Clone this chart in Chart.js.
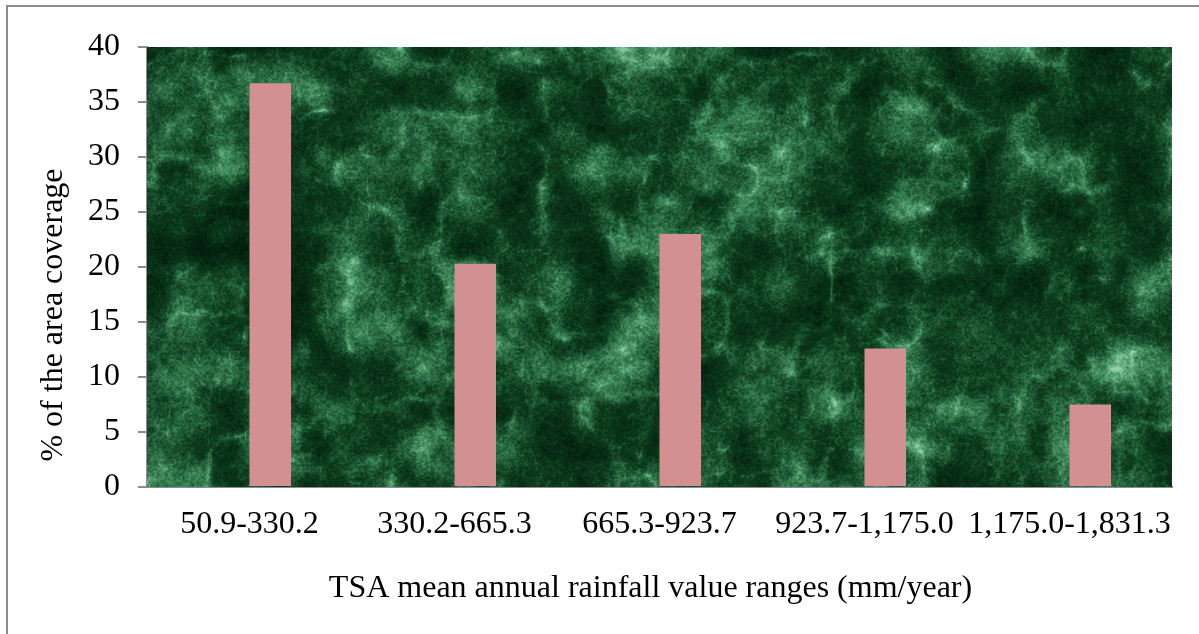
<!DOCTYPE html>
<html>
<head>
<meta charset="utf-8">
<title>TSA mean annual rainfall</title>
<script src="https://cdn.jsdelivr.net/npm/chart.js@4.4.1/dist/chart.umd.min.js"></script>
<style>
  html, body { margin: 0; padding: 0; background: #fff; }
  #wrap { width: 1199px; height: 634px; }
</style>
</head>
<body>
<div id="wrap"><canvas id="rainChart" width="1199" height="634"></canvas></div>
<script>
// rainfall classes and share of the area in each
const rangeLabels = ['50.9-330.2', '330.2-665.3', '665.3-923.7', '923.7-1,175.0', '1,175.0-1,831.3'];
const areaCoverage = [36.7, 20.3, 23.0, 12.6, 7.5];
const emptySeries = [null, null, null, null, null];
const yTicks = [0, 5, 10, 15, 20, 25, 30, 35, 40];
const xTitle = 'TSA mean annual rainfall value ranges (mm/year)';
const yTitle = '% of the area coverage';

const serif = "'Liberation Serif', 'Times New Roman', serif";
const axisGrey = '#8c8c8c';

// --- green marble fill for the plot area ---
function hash(x, y) {
    let h = (x * 374761393 + y * 668265263) | 0;
    h = Math.imul(h ^ (h >>> 13), 1274126177);
    h = h ^ (h >>> 16);
    return (h >>> 0) / 4294967296;
}
function noise(x, y) {
    const xi = Math.floor(x), yi = Math.floor(y);
    const xf = x - xi, yf = y - yi;
    const u = xf * xf * (3 - 2 * xf), v = yf * yf * (3 - 2 * yf);
    const a = hash(xi, yi), b = hash(xi + 1, yi), c = hash(xi, yi + 1), d = hash(xi + 1, yi + 1);
    return a + (b - a) * u + (c - a) * v + (a - b - c + d) * u * v;
}
function fbm(x, y, oct) {
    let s = 0, amp = 0.5, f = 1, norm = 0;
    for (let i = 0; i < oct; i++) {
        s += amp * noise(x * f + i * 17.3, y * f - i * 9.1);
        norm += amp; amp *= 0.5; f *= 2;
    }
    return s / norm;
}
function ridged(x, y, oct) {
    let s = 0, amp = 0.6, f = 1, norm = 0;
    for (let i = 0; i < oct; i++) {
        let r = 1 - Math.abs(2 * noise(x * f + i * 31.7, y * f + i * 5.3) - 1);
        s += amp * r * r;
        norm += amp; amp *= 0.5; f *= 2;
    }
    return s / norm;
}
const ramp = [
    [0.00, [2, 30, 12]],
    [0.30, [12, 58, 28]],
    [0.45, [28, 86, 50]],
    [0.62, [56, 126, 82]],
    [0.80, [96, 170, 124]],
    [1.00, [150, 210, 172]]
];
function shade(t) {
    t = Math.max(0, Math.min(1, t));
    for (let i = 1; i < ramp.length; i++) {
        if (t <= ramp[i][0]) {
            const [t0, c0] = ramp[i - 1], [t1, c1] = ramp[i];
            const k = (t - t0) / (t1 - t0);
            return [c0[0] + (c1[0] - c0[0]) * k, c0[1] + (c1[1] - c0[1]) * k, c0[2] + (c1[2] - c0[2]) * k];
        }
    }
    return ramp[ramp.length - 1][1];
}
function makeMarble(w, h) {
    const c = document.createElement('canvas');
    c.width = w; c.height = h;
    const g = c.getContext('2d');
    const img = g.createImageData(w, h);
    const px = img.data;
    for (let y = 0; y < h; y++) {
        for (let x = 0; x < w; x++) {
            const wx = x + 24 * fbm(x / 60 + 3.1, y / 60, 3);
            const wy = y + 24 * fbm(x / 60, y / 60 + 7.7, 3);
            let m = (fbm(x / 40, y / 40, 5) - 0.5) * 3.0 + 0.5;
            const veins = Math.pow(ridged(wx / 48, wy / 48, 3), 4);
            const cracks = Math.pow(ridged(wx / 11, wy / 11, 2), 5);
            const grain = fbm(x / 2.0, y / 2.0, 2);
            const t = 0.03 + 0.32 * m + 0.45 * veins + 0.18 * cracks + 0.30 * grain;
            const col = shade(t);
            const i = (y * w + x) * 4;
            px[i] = col[0]; px[i + 1] = col[1]; px[i + 2] = col[2]; px[i + 3] = 255;
        }
    }
    g.putImageData(img, 0, 0);
    return c;
}

let marble = null;
const plotBackground = {
    id: 'plotBackground',
    beforeDatasetsDraw(chart) {
        const a = chart.chartArea;
        const w = Math.round(a.right - a.left), h = Math.round(a.bottom - a.top);
        if (!marble || marble.width !== w || marble.height !== h) marble = makeMarble(w, h);
        chart.ctx.drawImage(marble, Math.round(a.left), Math.round(a.top));
    }
};

// thin frame around the whole figure, plus the two axis titles
const frame = {
    id: 'frame',
    afterDraw(chart) {
        const ctx = chart.ctx;
        const a = chart.chartArea;
        ctx.save();
        ctx.strokeStyle = axisGrey;
        ctx.lineWidth = 2;
        ctx.beginPath();
        ctx.moveTo(7, chart.height);
        ctx.lineTo(7, 6);
        ctx.lineTo(chart.width, 6);
        ctx.stroke();

        ctx.fillStyle = '#000';
        ctx.font = '32px ' + serif;
        ctx.textAlign = 'center';
        ctx.textBaseline = 'alphabetic';
        ctx.fillText(xTitle, (a.left + a.right) / 2 - 9, a.bottom + 110);
        ctx.translate(62, (a.top + a.bottom) / 2 + 48);
        ctx.rotate(-Math.PI / 2);
        ctx.fillText(yTitle, 0, 0);
        ctx.restore();
    }
};

const ctx = document.getElementById('rainChart').getContext('2d');
const chart = new Chart(ctx, {
    type: 'bar',
    data: {
        labels: rangeLabels,
        datasets: [{
            label: '',
            data: emptySeries,
            backgroundColor: 'rgba(0,0,0,0)'
        }, {
            label: yTitle,
            data: areaCoverage,
            backgroundColor: '#d39092',
            borderWidth: 0
        }]
    },
    options: {
        responsive: false,
        animation: false,
        layout: { padding: { left: 0, top: 47, right: 27, bottom: 0 } },
        categoryPercentage: 0.405,
        barPercentage: 1.0,
        plugins: {
            legend: { display: false },
            tooltip: { enabled: false }
        },
        scales: {
            x: {
                grid: { display: false, drawTicks: false },
                border: { display: true, color: axisGrey, width: 2 },
                ticks: {
                    color: '#000',
                    font: { family: serif, size: 32 },
                    padding: 18,
                    maxRotation: 0,
                    autoSkip: false
                },
                afterFit(scale) { scale.height = 147; }
            },
            y: {
                min: 0,
                max: 40,
                afterBuildTicks(scale) { scale.ticks = yTicks.map(v => ({ value: v })); },
                grid: { drawOnChartArea: false, drawTicks: true, tickLength: 9, color: axisGrey, lineWidth: 2 },
                border: { display: true, color: axisGrey, width: 2 },
                ticks: {
                    color: '#000',
                    font: { family: serif, size: 32 },
                    padding: 18
                },
                afterFit(scale) { scale.width = 147; }
            }
        }
    },
    plugins: [plotBackground, frame]
});
</script>
</body>
</html>
